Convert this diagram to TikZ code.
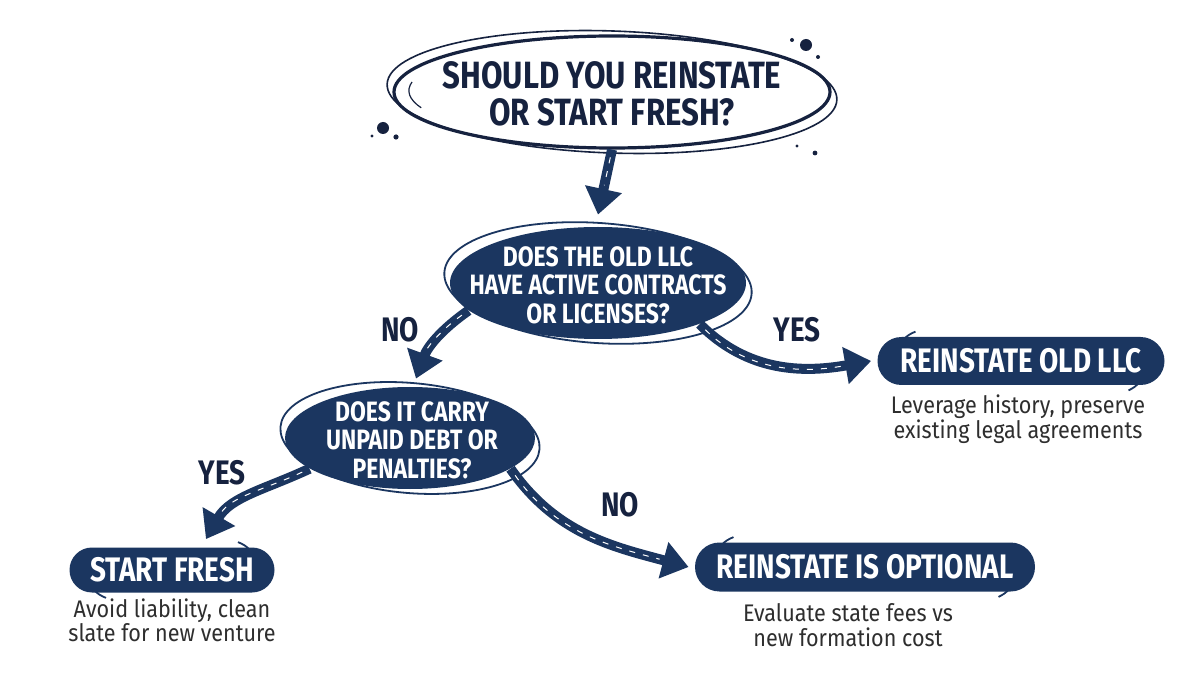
\documentclass[tikz,border=0pt]{standalone}
\usepackage{fontspec}
\setmainfont{Fira Sans}
\newfontfamily\headfont{Fira Sans}[FakeStretch=0.82]
\newfontfamily\bodyfont{Fira Sans}[FakeStretch=0.9]
\usetikzlibrary{arrows.meta,shapes.geometric,shapes.misc,calc}
\definecolor{navy}{HTML}{1B3660}
\definecolor{ink}{HTML}{16223F}
\definecolor{txt}{HTML}{2E2E2E}
\tikzset{
  decfill/.style={ellipse, fill=navy, inner sep=0pt},
  dectext/.style={text=white, align=center, font=\headfont\bfseries\fontsize{14}{14.2}\selectfont},
  ring/.style={navy, line width=0.9pt},
  pill/.style={rounded rectangle, fill=navy, text=white, font=\headfont\bfseries\fontsize{17}{18}\selectfont, inner sep=0pt},
  subtext/.style={text=txt, align=center, font=\bodyfont\fontsize{12}{12.2}\selectfont},
  lbl/.style={text=ink, font=\headfont\bfseries\fontsize{17}{18}\selectfont},
  arr/.style={navy, line width=5pt, -{Triangle[length=13pt,width=18pt]},
    postaction={draw=white, line width=0.5pt, dash pattern=on 3pt off 4pt, -, shorten >=15pt, shorten <=4pt}},
}
\begin{document}
\begin{tikzpicture}[x=0.5pt,y=-0.5pt]
\useasboundingbox (0,0) rectangle (1200,700);
\fill[white] (0,0) rectangle (1200,700);

% title
\node[ellipse, draw=ink, line width=1.6pt, minimum width=218pt, minimum height=56pt] (title) at (612,92) {};
\draw[ink, line width=0.8pt, rotate around={-2:(title.center)}] (title.center) ellipse [x radius=112.5pt, y radius=30.5pt];
\draw[ink, line width=0.6pt] ($(title.center)+(-200,-10)$) arc[start angle=170, end angle=200, x radius=102pt, y radius=25pt];
\node[text=ink, align=center, font=\headfont\bfseries\fontsize{19}{18.5}\selectfont] (titletext) at (612,94) {SHOULD YOU REINSTATE\\OR START FRESH?};
\fill[ink] (383,128) circle (3pt);
\fill[ink] (372,136) circle (0.8pt);
\fill[ink] (396,137) circle (1.3pt);
\fill[ink] (806,45) circle (3pt);
\fill[ink] (792,40) circle (1pt);
\fill[ink] (818,57) circle (1pt);
\fill[ink] (815,153) circle (1.2pt);
\fill[ink] (797,146) circle (0.8pt);

% decision 1
\node[decfill, minimum width=148pt, minimum height=56pt] (d1) at (598,283) {};
\draw[ring, rotate around={-4:(d1.center)}] (d1.center) ellipse [x radius=77pt, y radius=30pt];
\node[dectext] (d1text) at (598,285) {DOES THE OLD LLC\\HAVE ACTIVE CONTRACTS\\OR LICENSES?};

% decision 2
\node[decfill, minimum width=125pt, minimum height=51pt] (d2) at (410,438) {};
\draw[ring, rotate around={-5:(d2.center)}] (d2.center) ellipse [x radius=65pt, y radius=27.5pt];
\node[dectext] (d2text) at (412,440) {DOES IT CARRY\\UNPAID DEBT OR\\PENALTIES?};

% outcomes
\node[pill, minimum width=143.5pt, minimum height=24pt] (p1) at (1021,361) {REINSTATE OLD LLC};
\node[subtext] (s1) at (1018,419) {Leverage history, preserve\\existing legal agreements};
\node[pill, minimum width=102.5pt, minimum height=22.5pt] (p2) at (172,570) {START FRESH};
\node[subtext] (s2) at (172,620) {Avoid liability, clean\\slate for new venture};
\node[pill, minimum width=170pt, minimum height=24.5pt] (p3) at (865,567) {REINSTATE IS OPTIONAL};
\node[subtext] (s3) at (848,625) {Evaluate state fees vs\\new formation cost};

% sketch strokes round pills
\draw[ring] ($(p1.north west)+(14,-5)$) to[bend right=25] ($(p1.north west)+(-4,14)$);
\draw[ring] ($(p1.south east)+(-12,5)$) to[bend right=25] ($(p1.south east)+(4,-14)$);
\draw[ring] ($(p2.north east)+(-14,-5)$) to[bend left=25] ($(p2.north east)+(4,14)$);
\draw[ring] ($(p2.south west)+(14,5)$) to[bend left=25] ($(p2.south west)+(-4,-14)$);
\draw[ring] ($(p3.north west)+(14,-5)$) to[bend right=25] ($(p3.north west)+(-4,14)$);
\draw[ring] ($(p3.south east)+(-12,5)$) to[bend right=25] ($(p3.south east)+(4,-14)$);

% connectors
\draw[arr] (title.south) -- ([yshift=6pt]d1.north);
\draw[arr] (d1.192) to[out=215,in=70] ([xshift=3pt,yshift=4pt]d2.north);
\draw[arr] (d1.338) to[out=-45,in=190] ([xshift=-3pt]p1.west);
\draw[arr] (d2.197) to[out=205,in=60] ([yshift=4pt]p2.34);
\draw[arr] (d2.343) to[out=-55,in=165] ([xshift=-3pt]p3.west);

% labels
\node[lbl] (lno1) at (400,330) {NO};
\node[lbl] (lyes1) at (797,330) {YES};
\node[lbl] (lyes2) at (222,473) {YES};
\node[lbl] (lno2) at (620,505) {NO};
\end{tikzpicture}
\end{document}
